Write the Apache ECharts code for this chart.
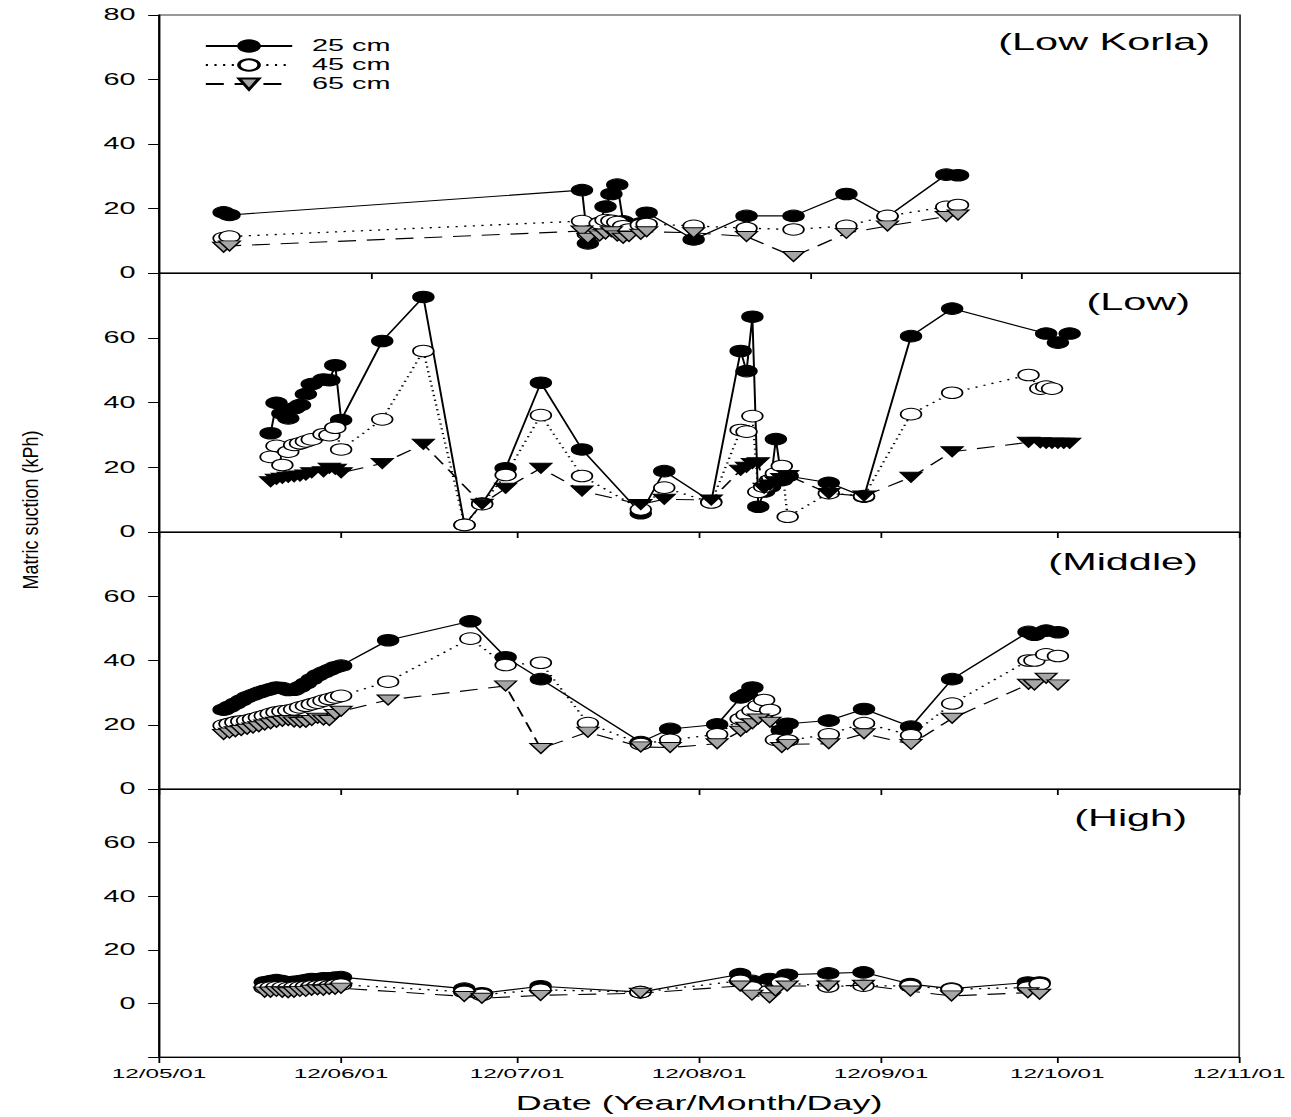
<!DOCTYPE html>
<html>
<head>
<meta charset="utf-8">
<script src="https://cdn.jsdelivr.net/npm/echarts@6/dist/echarts.min.js"></script>
<style>
html,body{margin:0;padding:0;background:#fff;overflow:hidden;}
#chart{width:717px;height:1117px;transform:scaleX(1.80056);transform-origin:0 0;background:#fff;}
</style>
</head>
<body>
<div id="chart"></div>
<script>
// ---------------- DATA ----------------
const depthNames = ['25 cm', '45 cm', '65 cm'];
const panelLabels = ['(Low Korla)', '(Low)', '(Middle)', '(High)'];
const monthTicks = ['2012-05-01','2012-06-01','2012-07-01','2012-08-01','2012-09-01','2012-10-01','2012-11-01'];
const monthLabels = ['12/05/01','12/06/01','12/07/01','12/08/01','12/09/01','12/10/01','12/11/01'];
const yTicks = [0, 20, 40, 60, 80];
const korlaTickDays = [36.3, 73.4, 110.8, 146.7];

// Panel 1: Low Korla
const korlaDates = ['2012-05-12','2012-05-13','2012-07-12','2012-07-13','2012-07-15','2012-07-16','2012-07-17','2012-07-18','2012-07-19','2012-07-20','2012-07-22','2012-07-23','2012-07-31','2012-08-09','2012-08-17','2012-08-26','2012-09-02','2012-09-12','2012-09-14'];
const korla25 = [18.8,18.0,25.7,9.2,15.5,20.6,24.5,27.4,16.0,15.0,15.4,18.7,10.4,17.7,17.7,24.5,17.5,30.5,30.3];
const korla45 = [10.8,11.3,16.1,12.0,15.4,16.4,16.2,15.8,14.5,13.5,14.9,15.2,14.6,13.9,13.5,14.6,17.7,20.5,21.1];
const korla65 = [8.0,8.4,13.0,10.8,11.5,12.1,12.8,11.5,10.8,11.3,12.0,12.8,12.5,11.3,5.1,12.3,14.6,17.5,18.0];

// Panel 2: Low
const lowDates = ['2012-05-20','2012-05-21','2012-05-22','2012-05-23','2012-05-24','2012-05-25','2012-05-26','2012-05-27','2012-05-29','2012-05-30','2012-05-31','2012-06-01','2012-06-08','2012-06-15','2012-06-22','2012-06-25','2012-06-29','2012-07-05','2012-07-12','2012-07-22','2012-07-26','2012-08-03','2012-08-08','2012-08-09','2012-08-10','2012-08-11','2012-08-12','2012-08-13','2012-08-14','2012-08-15','2012-08-16','2012-08-23','2012-08-29','2012-09-06','2012-09-13','2012-09-26','2012-09-28','2012-09-29','2012-09-30','2012-10-01','2012-10-02','2012-10-03'];
const low25 = [30.5,39.9,36.6,35.1,38.2,39.2,42.6,45.7,47.1,46.9,51.5,34.6,59.0,72.6,2.2,8.8,19.7,46.1,25.5,5.8,18.8,9.4,55.9,49.7,66.5,7.8,12.5,14.0,28.7,16.0,17.3,15.2,10.9,60.5,69.0,null,null,61.3,null,58.5,null,61.3];
const low45 = [23.2,26.6,20.7,24.8,26.9,27.4,28.0,28.6,30.2,29.9,32.2,25.5,34.8,55.9,2.2,8.6,17.6,36.1,17.3,7.0,13.7,9.1,31.5,31.0,35.8,12.4,14.0,16.0,18.1,20.4,4.7,12.0,11.1,36.4,43.0,48.5,44.3,44.9,44.3,null,null,null];
const low65 = [15.5,16.3,16.6,16.9,17.1,17.3,17.6,18.3,18.6,19.7,19.4,18.3,21.2,27.1,null,8.6,13.5,19.7,12.7,8.5,10.1,9.9,19.1,20.0,21.2,21.4,13.5,14.5,15.5,16.5,17.5,11.9,11.1,16.9,24.8,27.7,27.6,27.4,27.4,27.4,27.4,27.4];

// Panel 3: Middle
const midDates = ['2012-05-12','2012-05-13','2012-05-14','2012-05-15','2012-05-16','2012-05-17','2012-05-18','2012-05-19','2012-05-20','2012-05-21','2012-05-22','2012-05-23','2012-05-24','2012-05-25','2012-05-26','2012-05-27','2012-05-28','2012-05-29','2012-05-30','2012-05-31','2012-06-01','2012-06-09','2012-06-23','2012-06-29','2012-07-05','2012-07-13','2012-07-22','2012-07-27','2012-08-04','2012-08-08','2012-08-09','2012-08-10','2012-08-11','2012-08-12','2012-08-13','2012-08-14','2012-08-15','2012-08-16','2012-08-23','2012-08-29','2012-09-06','2012-09-13','2012-09-26','2012-09-27','2012-09-29','2012-10-01'];
const mid25 = [24.7,25.6,26.6,27.6,28.6,29.3,30.0,30.6,31.1,31.6,31.4,30.8,30.9,31.8,32.9,34.2,35.4,36.3,37.1,37.9,38.4,46.3,52.2,41.0,34.2,null,14.6,18.7,20.1,28.5,29.5,31.6,null,null,null,null,18.2,20.3,21.3,24.9,19.4,34.2,48.9,48.0,49.3,48.8];
const mid45 = [19.8,20.3,20.8,21.1,21.3,21.8,22.3,22.8,23.4,23.9,24.2,24.4,24.8,25.4,25.9,26.4,26.9,27.5,28.0,28.5,29.0,33.4,46.8,38.6,39.3,20.5,14.0,15.3,17.0,21.8,23.1,24.4,25.9,27.7,24.6,15.3,null,15.1,17.0,20.5,16.7,26.6,40.0,40.0,41.9,41.4];
const mid65 = [17.0,17.4,17.8,18.2,18.6,19.0,19.4,19.9,20.3,20.8,21.1,21.3,20.9,20.7,20.8,21.3,22.0,21.5,21.3,23.2,24.2,27.7,null,32.1,12.6,17.7,13.1,12.9,14.1,18.0,19.2,20.3,21.8,null,20.8,null,12.9,13.9,14.1,17.2,13.9,22.0,32.6,32.4,34.5,32.4];

// Panel 4: High
const highDates = ['2012-05-19','2012-05-20','2012-05-21','2012-05-22','2012-05-23','2012-05-24','2012-05-25','2012-05-26','2012-05-27','2012-05-28','2012-05-29','2012-05-30','2012-05-31','2012-06-01','2012-06-22','2012-06-25','2012-07-05','2012-07-22','2012-08-08','2012-08-10','2012-08-13','2012-08-14','2012-08-15','2012-08-16','2012-08-23','2012-08-29','2012-09-06','2012-09-13','2012-09-26','2012-09-28'];
const high25 = [7.9,8.3,8.7,8.3,7.9,8.1,8.3,8.7,9.1,8.9,9.4,9.4,9.6,9.8,5.5,3.8,6.4,4.2,10.9,8.4,9.1,null,null,10.7,11.2,11.6,7.2,5.5,7.8,7.8];
const high45 = [5.7,5.9,6.0,5.9,5.7,5.9,6.0,6.2,6.4,6.4,6.6,6.4,6.8,7.0,4.3,3.2,5.1,4.2,8.4,5.9,4.6,null,7.8,null,6.3,6.6,6.5,5.3,5.9,7.2];
const high65 = [4.2,4.2,4.5,4.2,4.0,4.2,4.5,4.5,4.9,5.1,4.9,5.3,5.3,5.7,2.6,1.9,3.0,3.8,6.5,3.1,2.1,4.6,null,6.5,6.5,6.8,4.6,2.8,4.0,3.4];

// ---------------- BUILD ----------------
const panels = [
  {dates: korlaDates, vals: [korla25, korla45, korla65], yMin: 0, triFill: '#a6a6a6'},
  {dates: lowDates, vals: [low25, low45, low65], yMin: 0, triFill: '#000'},
  {dates: midDates, vals: [mid25, mid45, mid65], yMin: 0, triFill: '#a6a6a6'},
  {dates: highDates, vals: [high25, high45, high65], yMin: -20, triFill: '#a6a6a6'}
];
const layout = [
  {top: 15, height: 258, labelY: 42, labelX: 672.0},
  {top: 273, height: 259, labelY: 302, labelX: 660.9},
  {top: 532, height: 257, labelY: 562, labelX: 665.3},
  {top: 789, height: 268, labelY: 818, labelX: 659.2}
];
const FONT = '"Liberation Sans", Arial, sans-serif';
const DAY = 86400000;
const parseD = s => { const p = s.split('-'); return Date.UTC(+p[0], +p[1] - 1, +p[2]); };
const t0 = parseD(monthTicks[0]);
const dayOf = s => Math.round((parseD(s) - t0) / DAY);   // days since 2012-05-01
const monthTickDays = monthTicks.map(dayOf);
const xMax = monthTickDays[monthTickDays.length - 1];

function pairs(dates, vals) {
  const out = [];
  dates.forEach((d, i) => { if (vals[i] != null) out.push([dayOf(d), vals[i]]); });
  return out;
}
const TRI = 'path://M0,0L12,0L6,10Z';

const grid = [], xAxis = [], yAxis = [], series = [], graphic = [];
panels.forEach((p, i) => {
  const L = layout[i];
  grid.push({left: 88.3, width: 600.4, top: L.top, height: L.height, show: true, borderColor: '#333', borderWidth: 1, backgroundColor: 'transparent'});
  const ticks = i === 0 ? korlaTickDays : monthTickDays;
  xAxis.push({
    type: 'value', gridIndex: i, min: 0, max: xMax,
    axisLine: {show: true, onZero: false, lineStyle: {color: '#000', width: 1}},
    axisTick: {show: true, inside: false, length: 6, customValues: ticks, lineStyle: {color: '#000', width: 1}},
    axisLabel: {show: i === 3, customValues: monthTickDays, margin: 9, color: '#000', fontSize: 13.5, fontFamily: FONT,
      formatter: v => { const k = monthTickDays.indexOf(v); return k >= 0 ? monthLabels[k] : ''; }},
    splitLine: {show: false},
    name: i === 3 ? 'Date (Year/Month/Day)' : '',
    nameLocation: 'middle', nameGap: 36,
    nameTextStyle: {fontSize: 20, color: '#000', fontFamily: FONT}
  });
  yAxis.push({
    type: 'value', gridIndex: i, min: p.yMin, max: 80, interval: 20,
    axisLine: {show: true, lineStyle: {color: '#000', width: 1.2}},
    axisTick: {show: true, inside: false, length: 6, lineStyle: {color: '#000', width: 1}},
    axisLabel: {margin: 13, color: '#000', fontSize: 16, fontFamily: FONT,
      formatter: v => (yTicks.indexOf(v) < 0 || (i > 0 && v === 80)) ? '' : String(v)},
    splitLine: {show: false}
  });
  const styles = [
    {symbol: 'circle', size: 11.5, fill: '#000', line: {color: '#000', width: 1.1, type: 'solid'}},
    {symbol: 'circle', size: 11.5, fill: '#fff', line: {color: '#000', width: 1.3, type: [1.2, 3.6]}},
    {symbol: TRI, size: [12, 10], fill: p.triFill, line: {color: '#000', width: 1.1, type: [10, 6]}}
  ];
  p.vals.forEach((v, k) => {
    const st = styles[k];
    series.push({
      type: 'line', name: depthNames[k], xAxisIndex: i, yAxisIndex: i,
      data: pairs(p.dates, v),
      symbol: st.symbol, symbolSize: st.size,
      itemStyle: {color: st.fill, borderColor: '#000', borderWidth: 1},
      lineStyle: st.line,
      emphasis: {disabled: true},
      z: 2 + k
    });
  });
  graphic.push({type: 'text', x: L.labelX, y: L.labelY,
    style: {text: panelLabels[i], font: '23px ' + FONT, fill: '#000', textAlign: 'right', align: 'right', textVerticalAlign: 'middle', verticalAlign: 'middle'}});
});
graphic.push({type: 'text', x: 16.7, y: 510, rotation: Math.PI / 2, scaleX: 1.5,
  style: {text: 'Matric suction (kPh)', font: '12px ' + FONT, fill: '#000', textAlign: 'center', align: 'center', textVerticalAlign: 'middle', verticalAlign: 'middle'}});

const chart = echarts.init(document.getElementById('chart'), null, {renderer: 'svg'});
chart.setOption({
  animation: false,
  backgroundColor: '#fff',
  legend: {
    data: depthNames, orient: 'vertical', left: 108.3, top: 33,
    itemWidth: 48, itemHeight: 14, itemGap: 3,
    textStyle: {fontSize: 16, color: '#000', fontFamily: FONT, padding: [0, 0, 0, 6]},
    selectedMode: false
  },
  grid, xAxis, yAxis, series, graphic
});
</script>
</body>
</html>
